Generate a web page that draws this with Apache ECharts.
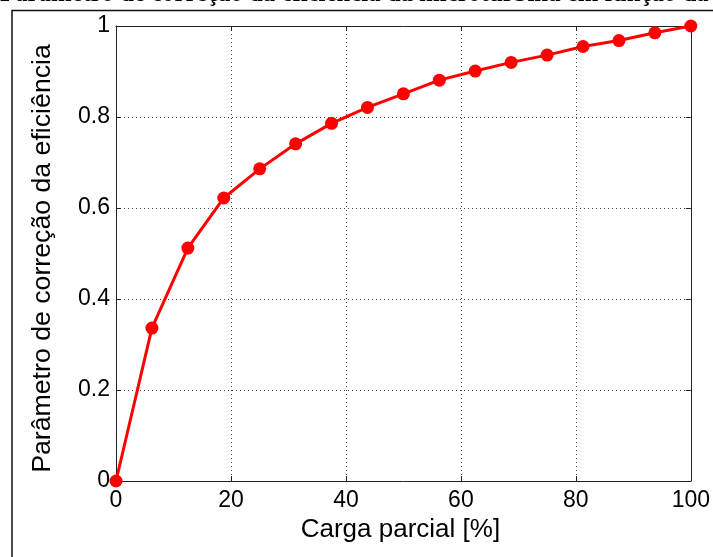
<!DOCTYPE html>
<html>
<head>
<meta charset="utf-8">
<script src="https://cdn.jsdelivr.net/npm/echarts@6/dist/echarts.min.js"></script>
<style>
html,body{margin:0;padding:0;background:#fff;}
#main{width:713px;height:557px;}
</style>
</head>
<body>
<div id="main"></div>
<script>
const titleText = 'Parâmetro de correção da eficiência da microturbina em função da';
const xAxisName = 'Carga parcial [%]';
const yAxisName = 'Parâmetro de correção da eficiência';
const cargaParcial = [0, 6.25, 12.5, 18.75, 25, 31.25, 37.5, 43.75, 50, 56.25, 62.5, 68.75, 75, 81.25, 87.5, 93.75, 100];
const parametro = [0, 0.336, 0.512, 0.622, 0.686, 0.741, 0.786, 0.821, 0.851, 0.881, 0.901, 0.920, 0.936, 0.955, 0.968, 0.985, 1.0];
const xTicks = [0, 20, 40, 60, 80, 100];
const yTicks = [0, 0.2, 0.4, 0.6, 0.8, 1];

const chart = echarts.init(document.getElementById('main'));
const tickFont = {fontFamily: '"Liberation Sans", Arial, sans-serif', fontSize: 23, color: '#000'};
const axisLine = {show: true, onZero: false, lineStyle: {color: '#222', width: 1}};
const gridDots = {show: true, lineStyle: {color: '#444', type: [1, 3], width: 1}};

chart.setOption({
  animation: false,
  backgroundColor: '#fff',
  title: {
    text: titleText,
    left: 0,
    top: -18,
    padding: 0,
    textStyle: {fontFamily: '"Liberation Serif", "Times New Roman", serif', fontSize: 24.8, fontWeight: 'bold', color: '#000'}
  },
  graphic: [{
    type: 'polyline',
    silent: true,
    shape: {points: [[12, 557], [12, 10.5], [713, 10.5]]},
    style: {stroke: '#111', lineWidth: 1.5, fill: null}
  }],
  grid: {left: 116, right: 22, top: 26, bottom: 76, containLabel: false},
  xAxis: [{
    type: 'value', min: xTicks[0], max: xTicks[xTicks.length - 1], interval: 20,
    name: xAxisName, nameLocation: 'middle', nameGap: 30,
    nameTextStyle: {fontFamily: '"Liberation Sans", Arial, sans-serif', fontSize: 26, color: '#000', padding: [0, 6, 0, 0]},
    axisLine: axisLine,
    axisTick: {show: true, inside: true, length: 5, lineStyle: {color: '#222'}},
    axisLabel: Object.assign({margin: 8}, tickFont),
    splitLine: gridDots
  }, {
    type: 'value', position: 'top', min: 0, max: 100, interval: 20,
    axisLine: axisLine,
    axisTick: {show: true, inside: true, length: 5, lineStyle: {color: '#222'}},
    axisLabel: {show: false}, splitLine: {show: false}
  }],
  yAxis: [{
    type: 'value', min: yTicks[0], max: yTicks[yTicks.length - 1], interval: 0.2,
    name: yAxisName, nameLocation: 'middle', nameGap: 60,
    nameTextStyle: {fontFamily: '"Liberation Sans", Arial, sans-serif', fontSize: 26.7, color: '#000', padding: [0, 10, 0, 0]},
    axisLine: axisLine,
    axisTick: {show: true, inside: true, length: 5, lineStyle: {color: '#222'}},
    axisLabel: Object.assign({margin: 6}, tickFont),
    splitLine: gridDots
  }, {
    type: 'value', position: 'right', min: 0, max: 1, interval: 0.2,
    axisLine: axisLine,
    axisTick: {show: true, inside: true, length: 5, lineStyle: {color: '#222'}},
    axisLabel: {show: false}, splitLine: {show: false}
  }],
  series: [{
    type: 'line',
    data: cargaParcial.map((x, i) => [x, parametro[i]]),
    xAxisIndex: 0, yAxisIndex: 0,
    symbol: 'circle', symbolSize: 13,
    showAllSymbol: true,
    clip: false,
    lineStyle: {color: '#ff0000', width: 3},
    itemStyle: {color: '#ff0000'},
    z: 5
  }]
});
</script>
</body>
</html>
